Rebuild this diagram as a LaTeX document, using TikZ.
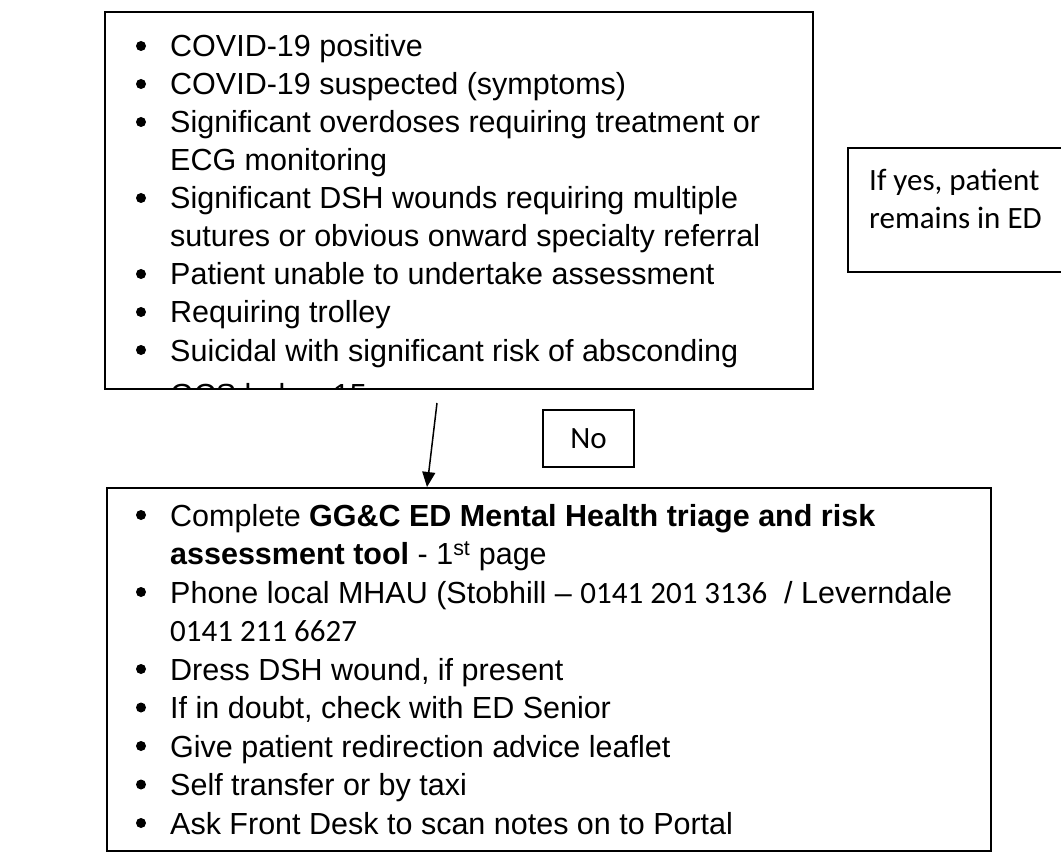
\documentclass[tikz,border=0pt]{standalone}
\usepackage{fontspec}
\setmainfont{Liberation Sans}
\newfontfamily\calibri{Carlito}
\usetikzlibrary{arrows.meta}

\tikzset{
  frame/.style={draw, line width=1.8pt, inner sep=0pt},
  itemtext/.style={anchor=base west, inner sep=0pt, font=\fontsize{30.5}{38}\selectfont},
  notetext/.style={anchor=base west, inner sep=0pt, font=\calibri\fontsize{31}{38}\selectfont},
  bullet/.style={fill=black},
}

\begin{document}
\begin{tikzpicture}[x=1pt,y=-1pt]
    \clip (0,0) rectangle (1061,861);

    % Exclusion criteria box
    \node[frame, minimum width=708pt, minimum height=377pt] (criteria) at (459,200.5) {};
    \fill[bullet] (141,46) circle (5pt);
    \node[itemtext] (c1) at (170,57) {COVID-19 positive};
    \fill[bullet] (141,84) circle (5pt);
    \node[itemtext] (c2) at (170,95) {COVID-19 suspected (symptoms)};
    \fill[bullet] (141,122) circle (5pt);
    \node[itemtext] (c3) at (170,133) {Significant overdoses requiring treatment or};
    \node[itemtext] (c3b) at (170,171) {ECG monitoring};
    \fill[bullet] (141,198) circle (5pt);
    \node[itemtext] (c4) at (170,209) {Significant DSH wounds requiring multiple};
    \node[itemtext] (c4b) at (170,247) {sutures or obvious onward specialty referral};
    \fill[bullet] (141,274) circle (5pt);
    \node[itemtext] (c5) at (170,285) {Patient unable to undertake assessment};
    \fill[bullet] (141,312) circle (5pt);
    \node[itemtext] (c6) at (170,323) {Requiring trolley};
    \fill[bullet] (141,350) circle (5pt);
    \node[itemtext] (c7) at (170,361) {Suicidal with significant risk of absconding};
    % last line is cut off by the box
    \begin{scope}
        \clip (criteria.south west) rectangle (criteria.north east);
        \fill[bullet] (141,394) circle (5pt);
        \node[itemtext] (c8) at (170,405) {GCS below 15};
    \end{scope}

    % Yes branch
    \node[frame, minimum width=227pt, minimum height=124pt] (yesbox) at (961.5,210) {};
    \node[notetext] (yes1) at (869,191) {If yes, patient};
    \node[notetext] (yes2) at (869,229) {remains in ED};

    % No branch
    \node[frame, minimum width=91pt, minimum height=57pt, font=\calibri\fontsize{31}{38}\selectfont] (nobox) at (588.5,438.5) {No};
    \coordinate (tail) at (437,403);
    \coordinate (tip) at (427,487);
    \draw[line width=1.5pt, -{Triangle[width=13pt,length=15pt]}] (tail) -- (tip);

    % Actions box
    \node[frame, minimum width=884pt, minimum height=363pt] (actions) at (549,669.5) {};
    \fill[bullet] (141,515) circle (5pt);
    \node[itemtext] (a1) at (170,526) {Complete \textbf{GG\&C ED Mental Health triage and risk}};
    \node[itemtext] (a1b) at (170,564.5) {\textbf{assessment tool} - 1\textsuperscript{st} page};
    \fill[bullet] (141,592) circle (5pt);
    \node[itemtext] (a2) at (170,603) {Phone local MHAU (Stobhill -- {\calibri\fontsize{31}{38}\selectfont 0141 201 3136}\ \ / Leverndale};
    \node[notetext] (a2b) at (170,641.5) {0141 211 6627};
    \fill[bullet] (141,669) circle (5pt);
    \node[itemtext] (a3) at (170,680) {Dress DSH wound, if present};
    \fill[bullet] (141,707.5) circle (5pt);
    \node[itemtext] (a4) at (170,718.5) {If in doubt, check with ED Senior};
    \fill[bullet] (141,746) circle (5pt);
    \node[itemtext] (a5) at (170,757) {Give patient redirection advice leaflet};
    \fill[bullet] (141,784.5) circle (5pt);
    \node[itemtext] (a6) at (170,795.5) {Self transfer or by taxi};
    \fill[bullet] (141,823) circle (5pt);
    \node[itemtext] (a7) at (170,834) {Ask Front Desk to scan notes on to Portal};
\end{tikzpicture}
\end{document}
